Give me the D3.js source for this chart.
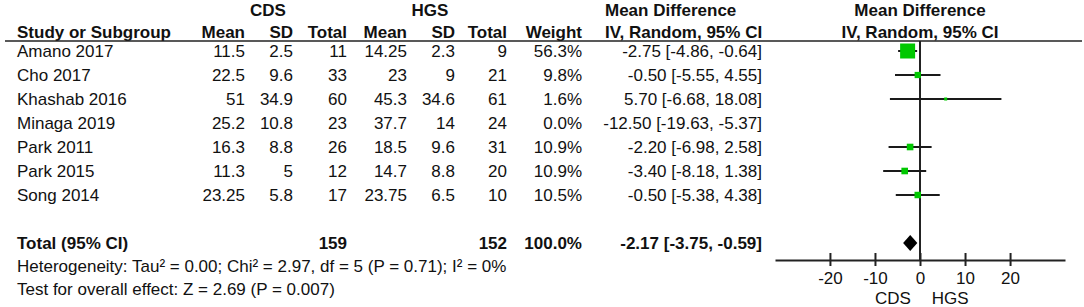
<!DOCTYPE html>
<html>
<head>
<meta charset="utf-8">
<script src="https://cdn.jsdelivr.net/npm/d3@7"></script>
<style>
html,body{margin:0;padding:0;background:#fff;}
svg text{font-family:"Liberation Sans",Arial,sans-serif;font-size:17px;fill:#111;}
</style>
</head>
<body>
<svg id="chart" width="1084" height="307"></svg>
<script>
const studies = ["Amano 2017","Cho 2017","Khashab 2016","Minaga 2019","Park 2011","Park 2015","Song 2014"];
const cdsMean = [11.5, 22.5, 51, 25.2, 16.3, 11.3, 23.25];
const cdsSD = [2.5, 9.6, 34.9, 10.8, 8.8, 5, 5.8];
const cdsTotal = [11, 33, 60, 23, 26, 12, 17];
const hgsMean = [14.25, 23, 45.3, 37.7, 18.5, 14.7, 23.75];
const hgsSD = [2.3, 9, 34.6, 14, 9.6, 8.8, 6.5];
const hgsTotal = [9, 21, 61, 24, 31, 20, 10];
const weight = [56.3, 9.8, 1.6, 0.0, 10.9, 10.9, 10.5];
const md = [-2.75, -0.50, 5.70, -12.50, -2.20, -3.40, -0.50];
const ciLow = [-4.86, -5.55, -6.68, -19.63, -6.98, -8.18, -5.38];
const ciHigh = [-0.64, 4.55, 18.08, -5.37, 2.58, 1.38, 4.38];
const totalCDS = 159, totalHGS = 152, totalWeight = 100.0;
const pooled = {md: -2.17, lo: -3.75, hi: -0.59};
const axisTicks = [-20, -10, 0, 10, 20];
const heterogeneity = "Heterogeneity: Tau² = 0.00; Chi² = 2.97, df = 5 (P = 0.71); I² = 0%";
const overall = "Test for overall effect: Z = 2.69 (P = 0.007)";
const favours = ["CDS", "HGS"];

const svg = d3.select("#chart");
const fmt2 = d => d.toFixed(2);
const ciText = (m, l, h) => `${fmt2(m)} [${fmt2(l)}, ${fmt2(h)}]`;

// row layout
const rowY = d3.scaleLinear().domain([0, 1]).range([51, 75]);
const totalY = 243, hetY = 266.5, testY = 289;
const headY = 32, groupY = 10, ruleY = 41;

// column right edges
const col = {study: 17, cMean: 245, cSD: 293, cTot: 347, hMean: 407, hSD: 455, hTot: 507, w: 582, ci: 762, ciLeft: 605};

function txt(x, y, s, anchor, bold) {
  return svg.append("text").attr("x", x).attr("y", y).attr("dy", "0.35em")
    .attr("text-anchor", anchor || "start")
    .style("font-weight", bold ? "bold" : "normal").text(s);
}

// group headers
txt(268, groupY, "CDS", "middle", true);
txt(430, groupY, "HGS", "middle", true);
txt(col.ciLeft, groupY, "Mean Difference", "start", true);

// column headers
txt(col.study, headY, "Study or Subgroup", "start", true);
txt(col.cMean, headY, "Mean", "end", true);
txt(col.cSD, headY, "SD", "end", true);
txt(col.cTot, headY, "Total", "end", true);
txt(col.hMean, headY, "Mean", "end", true);
txt(col.hSD, headY, "SD", "end", true);
txt(col.hTot, headY, "Total", "end", true);
txt(col.w, headY, "Weight", "end", true);
txt(col.ciLeft, headY, "IV, Random, 95% CI", "start", true);

// x scale for forest plot
const x = d3.scaleLinear().domain([-32.2, 32.2]).range([775, 1065]);
txt(x(0), groupY, "Mean Difference", "middle", true);
txt(x(0), headY, "IV, Random, 95% CI", "middle", true);

// header rule
svg.append("line").attr("x1", 5).attr("x2", 1082).attr("y1", ruleY).attr("y2", ruleY)
  .attr("stroke", "#222").attr("stroke-width", 1.6);

// study rows
studies.forEach((s, i) => {
  const y = rowY(i);
  txt(col.study, y, s);
  txt(col.cMean, y, String(cdsMean[i]), "end");
  txt(col.cSD, y, String(cdsSD[i]), "end");
  txt(col.cTot, y, String(cdsTotal[i]), "end");
  txt(col.hMean, y, String(hgsMean[i]), "end");
  txt(col.hSD, y, String(hgsSD[i]), "end");
  txt(col.hTot, y, String(hgsTotal[i]), "end");
  txt(col.w, y, weight[i].toFixed(1) + "%", "end");
  txt(col.ci, y, ciText(md[i], ciLow[i], ciHigh[i]), "end");
});

// total row
txt(col.study, totalY, "Total (95% CI)", "start", true);
txt(col.cTot, totalY, String(totalCDS), "end", true);
txt(col.hTot, totalY, String(totalHGS), "end", true);
txt(col.w, totalY, totalWeight.toFixed(1) + "%", "end", true);
txt(col.ci, totalY, ciText(pooled.md, pooled.lo, pooled.hi), "end", true);
txt(col.study, hetY, heterogeneity);
txt(col.study, testY, overall);

// forest plot
const axisY = 260;
const size = d3.scaleSqrt().domain([0, 56.3]).range([0, 15]);

// zero line
svg.append("line").attr("x1", x(0)).attr("x2", x(0)).attr("y1", ruleY).attr("y2", axisY)
  .attr("stroke", "#222").attr("stroke-width", 2);

studies.forEach((s, i) => {
  if (weight[i] <= 0) return;
  const y = rowY(i);
  svg.append("line").attr("x1", x(ciLow[i])).attr("x2", x(ciHigh[i]))
    .attr("y1", y).attr("y2", y).attr("stroke", "#1a1a1a").attr("stroke-width", 2);
  const w = Math.max(3, size(weight[i]));
  svg.append("rect").attr("x", x(md[i]) - w / 2).attr("y", y - w / 2)
    .attr("width", w).attr("height", w).attr("fill", "#00c800");
});

// diamond
const dh = 8;
svg.append("path")
  .attr("d", `M${x(pooled.lo)},${totalY} L${x(pooled.md)},${totalY - dh} L${x(pooled.hi)},${totalY} L${x(pooled.md)},${totalY + dh} Z`)
  .attr("fill", "#000");

// axis
const axis = d3.axisBottom(x).tickValues(axisTicks).tickSize(6).tickSizeOuter(0).tickPadding(6)
  .tickFormat(d => String(d));
const g = svg.append("g").attr("transform", `translate(0,${axisY})`).call(axis);
g.select(".domain").attr("stroke", "#222").attr("stroke-width", 2);
g.selectAll(".tick line").attr("y1", -7).attr("y2", 6).attr("stroke", "#222").attr("stroke-width", 2);
g.selectAll(".tick text").style("font-family", '"Liberation Sans",Arial,sans-serif').style("font-size", "17px").attr("fill", "#111");

txt(x(-6), 298, favours[0], "middle");
txt(x(6.7), 298, favours[1], "middle");
</script>
</body>
</html>
